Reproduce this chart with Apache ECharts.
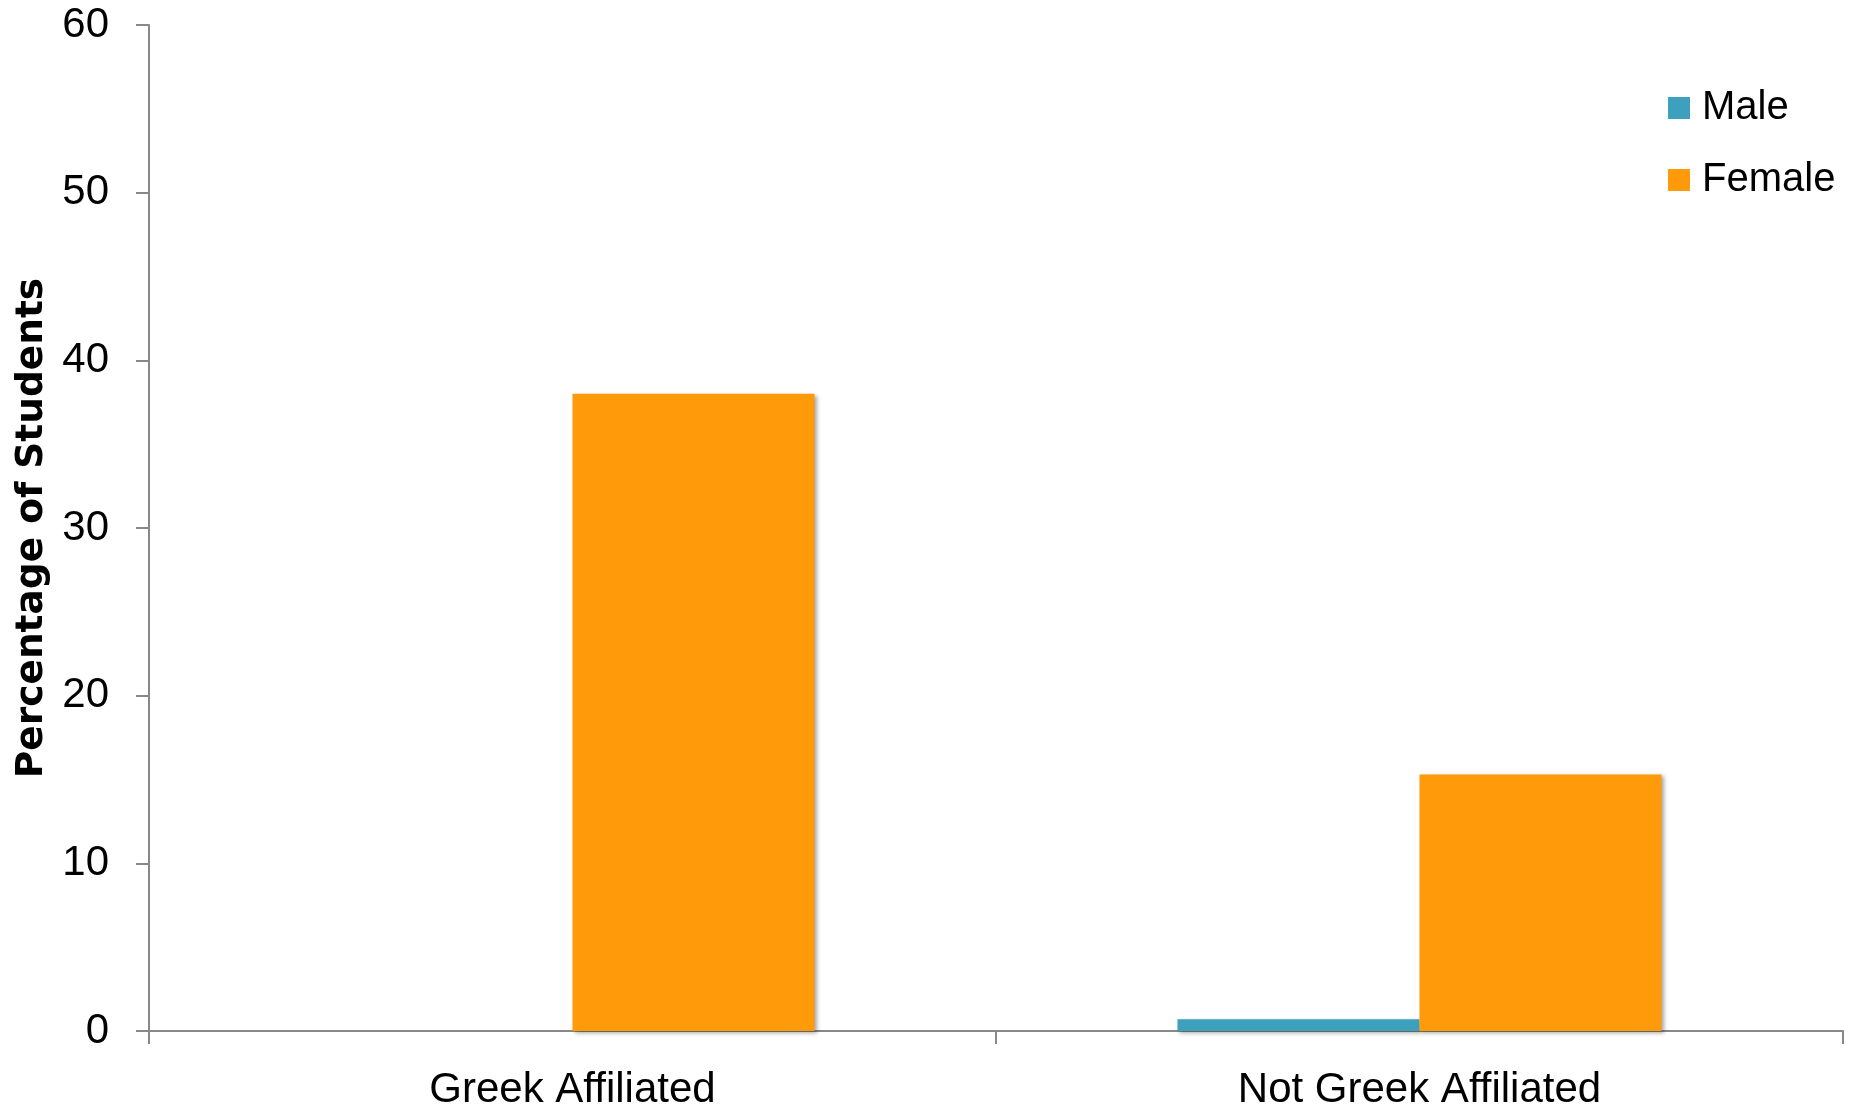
<!DOCTYPE html>
<html>
<head>
<meta charset="utf-8">
<script src="https://cdn.jsdelivr.net/npm/echarts@6/dist/echarts.min.js"></script>
<style>
html,body{margin:0;padding:0;background:#fff;}
#chart{width:1858px;height:1108px;}
</style>
</head>
<body>
<div id="chart"></div>
<script>
const categories = ['Greek Affiliated', 'Not Greek Affiliated'];
const maleValues = [0, 0.7];
const femaleValues = [38, 15.3];
const seriesNames = ['Male', 'Female'];
const yAxisTitle = 'Percentage of Students';

const chart = echarts.init(document.getElementById('chart'), null, {renderer: 'canvas'});
const shadow = {shadowColor: 'rgba(0,0,0,0.35)', shadowBlur: 4, shadowOffsetX: 2, shadowOffsetY: 2};
const labelFont = '"Liberation Sans", Arial, sans-serif';
chart.setOption({
  animation: false,
  backgroundColor: '#fff',
  grid: {left: 149, right: 15, top: 25, bottom: 77, containLabel: false, outerBoundsMode: 'none'},
  legend: {
    orient: 'vertical',
    left: 1663,
    top: 82,
    itemWidth: 22,
    itemHeight: 22,
    itemGap: 30,
    icon: 'rect',
    textStyle: {fontSize: 40, color: '#000', fontFamily: labelFont, lineHeight: 42, padding: [0,0,0,7]},
    data: seriesNames
  },
  xAxis: {
    type: 'category',
    data: categories,
    boundaryGap: true,
    axisLine: {lineStyle: {color: '#888', width: 2}},
    axisTick: {show: true, length: 13, alignWithLabel: false, lineStyle: {color: '#888', width: 2}},
    axisLabel: {fontSize: 42, color: '#000', fontFamily: labelFont, margin: 38}
  },
  yAxis: {
    type: 'value',
    min: 0,
    max: 60,
    interval: 10,
    name: yAxisTitle,
    nameLocation: 'middle',
    nameGap: 96,
    nameTextStyle: {fontSize: 37.5, fontWeight: 'bold', color: '#000', fontFamily: '"DejaVu Sans", sans-serif'},
    axisLine: {show: true, lineStyle: {color: '#888', width: 2}},
    axisTick: {show: true, length: 13, lineStyle: {color: '#888', width: 2}},
    splitLine: {show: false},
    axisLabel: {fontSize: 42, color: '#000', fontFamily: labelFont, margin: 40}
  },
  series: [
    {name: seriesNames[0], type: 'bar', data: maleValues, barWidth: 242, barGap: '0%',
     itemStyle: Object.assign({color: '#3DA0BC'}, shadow)},
    {name: seriesNames[1], type: 'bar', data: femaleValues, barWidth: 242, barGap: '0%',
     itemStyle: Object.assign({color: '#FF9B0A'}, shadow)}
  ]
});
</script>
</body>
</html>
